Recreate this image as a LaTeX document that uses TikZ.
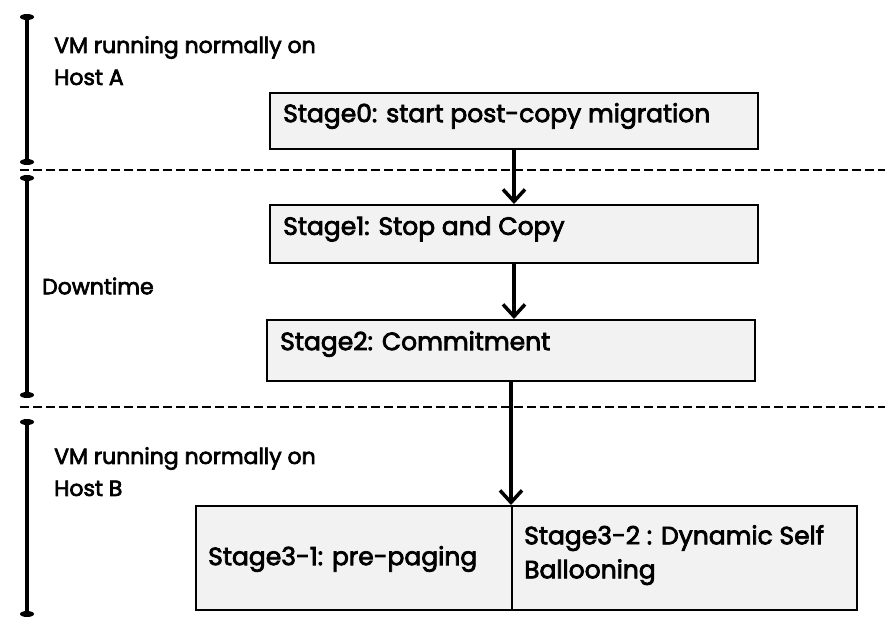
\documentclass[tikz,border=0pt]{standalone}
\usepackage{fontspec}
\setmainfont{Poppins}
\newfontfamily\medfont{Poppins}[RawFeature={embolden=3}]
\usetikzlibrary{arrows.meta}
\tikzset{
  stagebox/.style={draw=black, line width=2pt, fill=gray!10, inner sep=0pt, anchor=north west},
  stagetext/.style={anchor=west, inner sep=0pt, font=\medfont\fontsize{25}{30}\selectfont},
  sidetext/.style={anchor=north west, inner sep=0pt, align=left, font=\medfont\fontsize{22}{32}\selectfont},
  flow/.style={line width=3.5pt, -{Straight Barb[length=12pt,width=22pt,line width=3.5pt]}},
  bracket/.style={line width=3.5pt},
  sepline/.style={line width=2.5pt, dash pattern=on 9pt off 4pt}
}
\begin{document}
\begin{tikzpicture}[x=1pt,y=-1pt]
\useasboundingbox (0,0) rectangle (896,642);

% left brackets
\coordinate (t1) at (27,17);  \coordinate (e1) at (27,162);
\coordinate (t2) at (27,178); \coordinate (e2) at (27,395);
\coordinate (t3) at (27,422); \coordinate (e3) at (27,614);
\draw[bracket] (t1) -- (e1);
\draw[bracket] (t2) -- (e2);
\draw[bracket] (t3) -- (e3);
\foreach \p in {t1,e1,t2,e2,t3,e3} \fill (\p) ellipse [x radius=7pt, y radius=3pt];

% separators
\coordinate (s1a) at (20,170); \coordinate (s1b) at (885,170);
\coordinate (s2a) at (20,407); \coordinate (s2b) at (885,407);
\draw[sepline] (s1a) -- (s1b);
\draw[sepline] (s2a) -- (s2b);

% side labels
\node[sidetext] (hA) at (54,36) {VM running normally on\\Host A};
\node[sidetext, anchor=west] (dt) at (42,286) {Downtime};
\node[sidetext] (hB) at (54,447) {VM running normally on\\Host B};

% boxes
\node[stagebox, minimum width=488pt, minimum height=56pt] (b0) at (269,92) {};
\node[stagetext] (l0) at (283,116) {Stage0: start post-copy migration};
\node[stagebox, minimum width=488pt, minimum height=58pt] (b1) at (269,204) {};
\node[stagetext] (l1) at (283,229) {Stage1: Stop and Copy};
\node[stagebox, minimum width=488pt, minimum height=61pt] (b2) at (266,319) {};
\node[stagetext] (l2) at (280,344) {Stage2: Commitment};
\node[stagebox, minimum width=316pt, minimum height=104pt] (b31) at (195,505) {};
\node[stagebox, minimum width=345pt, minimum height=104pt] (b32) at (511,505) {};
\node[stagetext] (l31) at (208,559) {Stage3-1: pre-paging};
\node[stagetext, anchor=north west, align=left, font=\medfont\fontsize{25}{34}\selectfont] (l32) at (524,525) {Stage3-2 : Dynamic Self\\Ballooning};

% arrows
\draw[flow] (b0.south) -- (b1.north);
\draw[flow] (b1.south) -- (b1.south |- b2.north);
\draw[flow] (b2.south -| b32.north west) -- (b32.north west);
\end{tikzpicture}
\end{document}
